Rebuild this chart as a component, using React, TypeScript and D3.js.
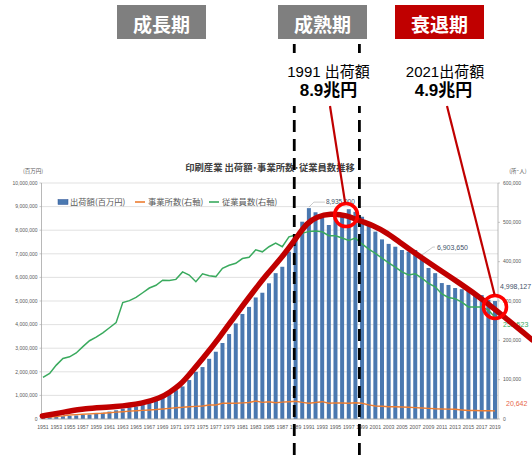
import React from 'react';
import * as d3 from 'd3';

// ---------- data ----------
const years: number[] = d3.range(1951, 2020);

// 出荷額 (百万円)
const shipments: number[] = [
  80000, 95000, 110000, 120000, 130000, 150000, 175000, 190000, 220000, 265000,
  315000, 370000, 440000, 495000, 530000, 600000, 700000, 820000, 950000, 1150000,
  1220000, 1380000, 1650000, 2000000, 2200000, 2550000, 2850000, 3220000, 3600000, 4050000,
  4450000, 4750000, 5150000, 5350000, 5750000, 6180000, 6450000, 7090000, 7750000, 8360000,
  8935000, 8760000, 8550000, 8220000, 8500000, 8720000, 8890000, 8780000, 8570000, 8220000,
  7940000, 7610000, 7420000, 7300000, 7160000, 7090000, 7160000, 6903650, 6400000, 6180000,
  5760000, 5680000, 5550000, 5500000, 5450000, 5380000, 5250000, 5050000, 4998127,
];

// 事業所数 (右軸)
const establishments: number[] = [
  3500, 5000, 6500, 8000, 10000, 11000, 12000, 13000, 14000, 14500,
  16000, 17500, 18600, 20000, 21000, 22000, 23000, 24000, 25400, 27000,
  28700, 29700, 31300, 32000, 33000, 35600, 35600, 40000, 40000, 40000,
  41000, 42000, 45800, 42400, 44000, 41400, 43000, 44000, 45000, 42400,
  40000, 42000, 44000, 40000, 41000, 40500, 40000, 41400, 40000, 36000,
  33000, 32500, 31300, 31000, 30500, 29700, 29000, 28000, 27000, 26000,
  25400, 25000, 24600, 23000, 21500, 21500, 21000, 21000, 20642,
];

// 従業員数 (右軸)
const employees: number[] = [
  106000, 116000, 137000, 154000, 158000, 168000, 184000, 199000, 208000, 219000,
  232000, 245000, 296000, 301000, 309000, 321000, 333000, 340000, 353000, 352000,
  355000, 374000, 366000, 349000, 369000, 364000, 362000, 383000, 391000, 396000,
  408000, 411000, 430000, 425000, 438000, 447000, 438000, 463000, 468000, 472000,
  477000, 478000, 476000, 466000, 466000, 460000, 454000, 460000, 445000, 432000,
  421000, 409000, 397000, 386000, 374000, 366000, 369000, 358000, 345000, 336000,
  318000, 309000, 306000, 297000, 285000, 285000, 285000, 277000, 258523,
];

const leftTicks: number[] = d3.range(0, 10000001, 1000000);
const rightTicks: number[] = d3.range(0, 600001, 100000);
const xTickYears: number[] = years.filter((y) => (y - 1951) % 2 === 0);

// red trend curve (illustration)
const trendYears: number[] = [
  1950.9, 1954.6, 1957.0, 1962.1, 1966.0, 1968.6, 1970.1, 1971.6, 1972.7, 1975.1,
  1977.6, 1980.2, 1982.6, 1984.7, 1987.1, 1989.2, 1990.7, 1992.2, 1994.2, 1996.7,
  1998.7, 2000.7, 2002.8, 2004.7, 2007.7, 2010.7, 2013.7, 2016.7, 2024.6,
];
const trendValues: number[] = [
  127000, 310000, 450000, 520000, 660000, 880000, 1140000, 1440000, 1780000, 2580000,
  3470000, 4490000, 5380000, 6140000, 6900000, 7710000, 8310000, 8570000, 8710000, 8640000,
  8390000, 8200000, 7880000, 7480000, 6880000, 6310000, 5750000, 5180000, 3350000,
];

const phaseLabels: string[] = ['成長期', '成熟期', '衰退期'];
const periodYears: number[] = [1988.8, 1998.6];
const markerYears: number[] = [1996.6, 2019.0];
const markerValues: number[] = [8640000, 4750000];

const LAT = "'Liberation Sans', 'Noto Sans CJK JP', sans-serif";
const NARROW = "'Liberation Sans Narrow', 'Liberation Sans', 'Noto Sans CJK JP', sans-serif";
const JP = "'Noto Sans CJK JP', 'Noto Sans', sans-serif";

const BAR = '#4a78b0';
const ORANGE = '#ed7d31';
const GREEN = '#3aaa5e';
const DARKRED = '#c00000';

export default function App() {
  const W = 532;
  const H = 457;
  const left = 41.5;
  const right = 498;
  const bottom = 419;
  const top = 183;

  const x = d3.scaleBand<number>().domain(years).range([41, 497]).paddingInner(0.4).paddingOuter(0);
  const bw = x.bandwidth();
  const cx = (yr: number) => (x(yr) as number) + bw / 2;
  const xYear = d3
    .scaleLinear()
    .domain([1951, 2019])
    .range([cx(1951), cx(2019)]);
  const yL = d3.scaleLinear().domain([0, 10000000]).range([bottom, top]);
  const yR = d3.scaleLinear().domain([0, 600000]).range([bottom, top]);

  const lineR = d3
    .line<number>()
    .x((_, i) => cx(years[i]))
    .y((d) => yR(d));

  const trend = d3
    .line<number>()
    .x((_, i) => xYear(trendYears[i]))
    .y((d) => yL(d))
    .curve(d3.curveBasis);

  const fmt = d3.format(',');

  const c1 = { x: xYear(markerYears[0]), y: yL(markerValues[0]) };
  const c2 = { x: xYear(markerYears[1]), y: yL(markerValues[1]) };
  const r = 11.5;

  const i1991 = years.indexOf(1991);
  const i2008 = years.indexOf(2008);
  const iLast = years.length - 1;

  const boxes = [
    { x: 117, fill: '#7f7f7f' },
    { x: 278, fill: '#7f7f7f' },
    { x: 395, fill: '#c00000' },
  ];

  return (
    <svg
      width={W}
      height={H}
      viewBox={`0 0 ${W} ${H}`}
      style={{ position: 'absolute', left: 0, top: 0, background: '#fff' }}
    >
      {/* title */}
      <text x={270} y={170.5} textAnchor="middle" fontFamily={JP} fontSize={9.3} fontWeight={700} fill="#404040">
        印刷産業 出荷額･事業所数･従業員数推移
      </text>
      <text x={33} y={172.5} textAnchor="middle" fontFamily={JP} fontSize={5.5} fill="#595959">
        (百万円)
      </text>
      <text x={518} y={172.5} textAnchor="middle" fontFamily={JP} fontSize={5.5} fill="#595959">
        (所･人)
      </text>

      {/* gridlines */}
      {leftTicks.map((t) => (
        <line key={'g' + t} x1={left} x2={right} y1={yL(t)} y2={yL(t)} stroke="#d9d9d9" strokeWidth={0.8} />
      ))}

      {/* bars */}
      {shipments.map((v, i) => (
        <rect
          key={'b' + i}
          x={x(years[i])}
          y={yL(v)}
          width={bw}
          height={bottom - yL(v)}
          fill={BAR}
        />
      ))}

      {/* lines */}
      <path d={lineR(establishments) || ''} fill="none" stroke={ORANGE} strokeWidth={1.4} />
      <path d={lineR(employees) || ''} fill="none" stroke={GREEN} strokeWidth={1.5} />

      {/* axes */}
      <line x1={left} x2={left} y1={top} y2={bottom} stroke="#a6a6a6" strokeWidth={0.8} />
      <line x1={right} x2={right} y1={top} y2={bottom} stroke="#a6a6a6" strokeWidth={0.8} />
      <line x1={left} x2={right} y1={bottom} y2={bottom} stroke="#a6a6a6" strokeWidth={0.8} />
      {leftTicks.map((t) => (
        <g key={'lt' + t}>
          <line x1={left - 2} x2={left} y1={yL(t)} y2={yL(t)} stroke="#a6a6a6" strokeWidth={0.6} />
          <text x={37.5} y={yL(t) + 1.8} textAnchor="end" fontFamily={LAT} fontSize={5} fill="#595959">
            {fmt(t)}
          </text>
        </g>
      ))}
      {rightTicks.map((t) => (
        <g key={'rt' + t}>
          <line x1={right} x2={right + 2} y1={yR(t)} y2={yR(t)} stroke="#a6a6a6" strokeWidth={0.6} />
          <text x={503} y={yR(t) + 1.8} textAnchor="start" fontFamily={LAT} fontSize={5} fill="#595959">
            {fmt(t)}
          </text>
        </g>
      ))}
      {xTickYears.map((yr) => (
        <text key={'xt' + yr} x={cx(yr)} y={429} textAnchor="middle" fontFamily={NARROW} fontSize={5.2} fill="#595959">
          {yr}
        </text>
      ))}

      {/* legend */}
      <rect x={58} y={199.5} width={10} height={5} fill={BAR} stroke="#2f5597" strokeWidth={0.5} />
      <text x={70} y={205} fontFamily={JP} fontSize={8.3} fill="#595959">
        出荷額(百万円)
      </text>
      <line x1={135} x2={145} y1={202} y2={202} stroke={ORANGE} strokeWidth={1.6} />
      <text x={148} y={205} fontFamily={JP} fontSize={8.3} fill="#595959">
        事業所数(右軸)
      </text>
      <line x1={209} x2={219} y1={202} y2={202} stroke={GREEN} strokeWidth={1.6} />
      <text x={222} y={205} fontFamily={JP} fontSize={8.3} fill="#595959">
        従業員数(右軸)
      </text>

      {/* data labels */}
      <polyline
        points={`${cx(1991)},${yL(shipments[i1991]) - 1} ${cx(1991) + 5},${yL(shipments[i1991]) - 6} ${cx(1991) + 16},${yL(shipments[i1991]) - 6}`}
        fill="none"
        stroke="#a6a6a6"
        strokeWidth={0.6}
      />
      <text x={cx(1991) + 17} y={yL(shipments[i1991]) - 4} fontFamily={LAT} fontSize={6.5} fill="#44546a">
        {fmt(shipments[i1991])}
      </text>
      <polyline
        points={`${cx(2008)},${yL(shipments[i2008]) - 1} ${cx(2008) + 11},${yL(shipments[i2008]) - 9} ${cx(2008) + 13},${yL(shipments[i2008]) - 9}`}
        fill="none"
        stroke="#a6a6a6"
        strokeWidth={0.6}
      />
      <text x={cx(2008) + 15} y={yL(shipments[i2008]) - 6.5} fontFamily={LAT} fontSize={7} fill="#44546a">
        {fmt(shipments[i2008])}
      </text>
      <text x={500} y={yL(shipments[iLast]) - 12} fontFamily={LAT} fontSize={7} fill="#44546a">
        {fmt(shipments[iLast])}
      </text>
      <text x={506} y={yR(establishments[iLast]) - 4.5} fontFamily={LAT} fontSize={7} fill="#e8674a">
        {fmt(establishments[iLast])}
      </text>
      <text x={503} y={yR(employees[iLast]) + 10} fontFamily={LAT} fontSize={7} fill={GREEN}>
        {fmt(employees[iLast])}
      </text>

      {/* period dashed lines */}
      {periodYears.map((yr) => (
        <line
          key={'d' + yr}
          x1={xYear(yr)}
          x2={xYear(yr)}
          y1={44}
          y2={457}
          stroke="#000"
          strokeWidth={2.8}
          strokeDasharray="12,7"
        />
      ))}
      <rect x={280} y={53} width={95} height={53} fill="#fff" />

      {/* red trend */}
      <path d={trend(trendValues) || ''} fill="none" stroke={DARKRED} strokeWidth={5.5} strokeLinecap="round" />

      {/* markers */}
      <circle cx={c1.x} cy={c1.y} r={r} fill="none" stroke="#ff0000" strokeWidth={3.5} />
      <circle cx={c2.x} cy={c2.y} r={r} fill="none" stroke="#ff0000" strokeWidth={3.5} />
      <line x1={330} y1={106} x2={c1.x - 1} y2={c1.y - r - 1} stroke={DARKRED} strokeWidth={2.2} />
      <line x1={447} y1={106} x2={c2.x - 0.5} y2={c2.y - r - 1} stroke={DARKRED} strokeWidth={2.2} />

      {/* annotation texts */}
      <text x={328.5} y={77} textAnchor="middle" fontFamily={NARROW} fontSize={15} fill="#000">
        1991 出荷額
      </text>
      <text x={328.5} y={96} textAnchor="middle" fontFamily={LAT} fontSize={17} fontWeight={700} fill="#000">
        8.9兆円
      </text>
      <text x={445} y={77} textAnchor="middle" fontFamily={NARROW} fontSize={15} fill="#000">
        2021出荷額
      </text>
      <text x={443.5} y={96} textAnchor="middle" fontFamily={LAT} fontSize={17} fontWeight={700} fill="#000">
        4.9兆円
      </text>

      {/* phase boxes */}
      {boxes.map((b, i) => (
        <g key={'p' + i}>
          <rect x={b.x} y={5} width={89} height={34} fill={b.fill} />
          <text
            x={b.x + 44.5}
            y={23}
            textAnchor="middle"
            dominantBaseline="central"
            fontFamily={JP}
            fontSize={19}
            fontWeight={700}
            fill="#fff"
          >
            {phaseLabels[i]}
          </text>
        </g>
      ))}
    </svg>
  );
}
